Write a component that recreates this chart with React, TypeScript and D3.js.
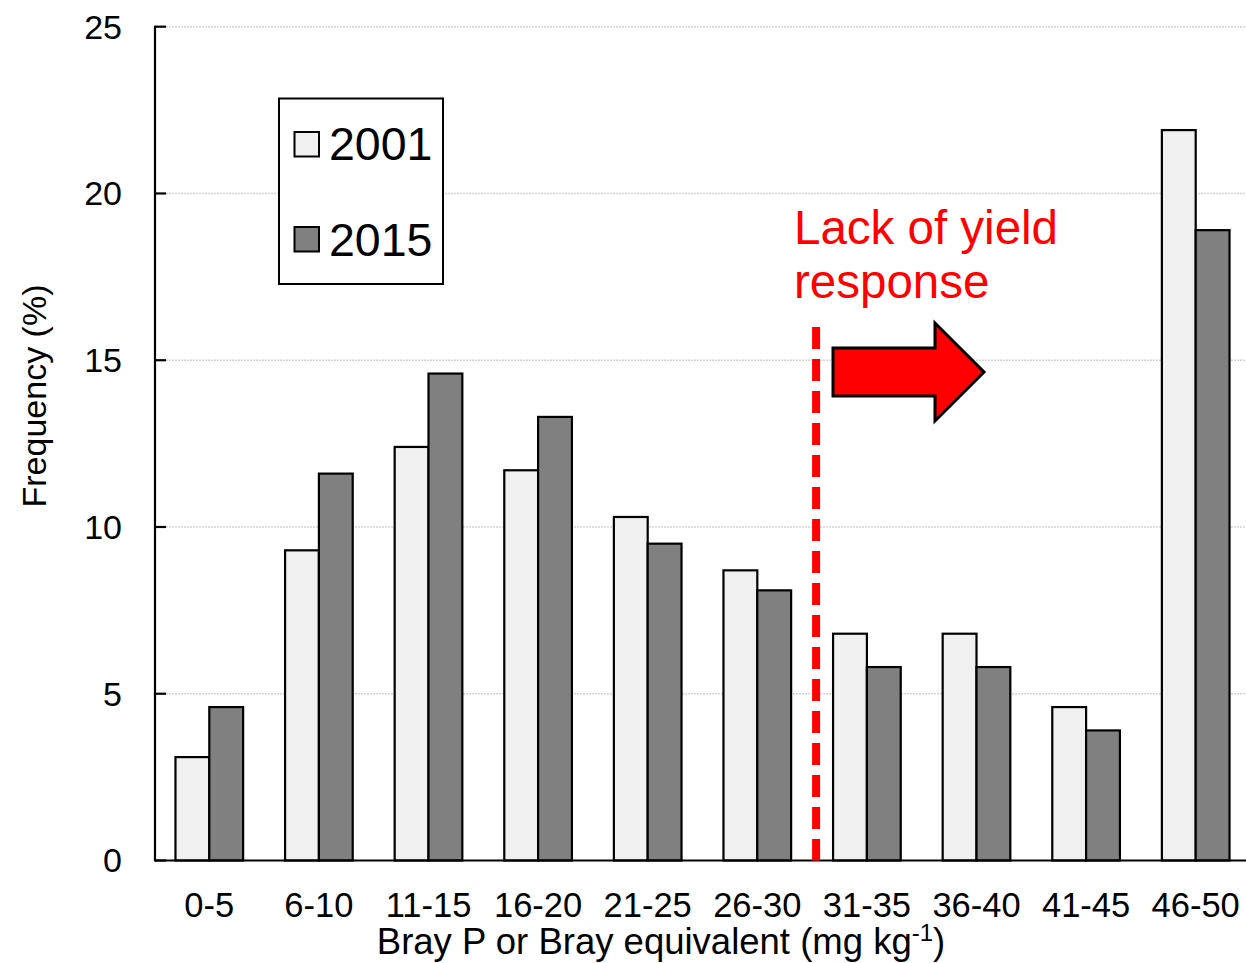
import React from "react";
import * as d3 from "d3";

// Soil test P distribution by class, two survey years
const categories = ["0-5", "6-10", "11-15", "16-20", "21-25", "26-30", "31-35", "36-40", "41-45", "46-50"];
const seriesNames = ["2001", "2015"];
const values2001 = [3.1, 9.3, 12.4, 11.7, 10.3, 8.7, 6.8, 6.8, 4.6, 21.9];
const values2015 = [4.6, 11.6, 14.6, 13.3, 9.5, 8.1, 5.8, 5.8, 3.9, 18.9];
const yTicks = [0, 5, 10, 15, 20, 25];
const seriesFill: Record<string, string> = { "2001": "#f0f0f0", "2015": "#808080" };

const W = 1246;
const H = 963;
const FONT = "'Liberation Sans', Arial, Helvetica, sans-serif";

export default function App() {
  const left = 155;
  const y0 = 860.5;
  const yTop = 26.7;

  const x0 = d3.scaleBand<string>().domain(categories).range([154.5, 1250.5]).padding(0);
  const x1 = d3
    .scaleBand<string>()
    .domain(seriesNames)
    .range([0, x0.bandwidth()])
    .paddingInner(0)
    .paddingOuter(0.62);
  const y = d3.scaleLinear().domain([0, 25]).range([y0, yTop]);

  const rows = categories.map((c, i) => ({
    cat: c,
    vals: [
      { key: "2001", v: values2001[i] },
      { key: "2015", v: values2015[i] },
    ],
  }));

  // threshold between 26-30 and 31-35 classes
  const thresholdX = (x0("31-35") as number) + 4;

  const arrow = d3.line()([
    [833, 348],
    [935, 348],
    [935, 323],
    [984, 372],
    [935, 421],
    [935, 396],
    [833, 396],
  ]) + "Z";

  return (
    <svg
      width={W}
      height={H}
      style={{ position: "absolute", left: 0, top: 0, background: "#fff" }}
      fontFamily={FONT}
    >
      {/* gridlines */}
      {yTicks
        .filter((t) => t > 0)
        .map((t) => (
          <line
            key={"g" + t}
            x1={left + 11}
            x2={W}
            y1={y(t)}
            y2={y(t)}
            stroke="#d4d4d4"
            strokeWidth={1.5}
            strokeDasharray="2 1"
          />
        ))}

      {/* bars */}
      {rows.map((r) => (
        <g key={r.cat} transform={`translate(${x0(r.cat)},0)`}>
          {r.vals.map((d) => (
            <rect
              key={d.key}
              x={x1(d.key)}
              y={y(d.v)}
              width={x1.bandwidth()}
              height={y0 - y(d.v)}
              fill={seriesFill[d.key]}
              stroke="#000"
              strokeWidth={2.2}
            />
          ))}
        </g>
      ))}

      {/* axes */}
      <line x1={left} x2={left} y1={yTop - 1} y2={y0 + 1} stroke="#000" strokeWidth={2.2} />
      <line x1={left} x2={W} y1={y0} y2={y0} stroke="#000" strokeWidth={2.2} />
      {yTicks.map((t) => (
        <g key={"t" + t}>
          <line x1={left} x2={left + 11} y1={y(t)} y2={y(t)} stroke="#000" strokeWidth={2.2} />
          <text x={122} y={y(t)} dy="0.35em" textAnchor="end" fontSize={34} fill="#000">
            {t}
          </text>
        </g>
      ))}
      {categories.map((c) => (
        <text
          key={"c" + c}
          x={(x0(c) as number) + x0.bandwidth() / 2}
          y={917}
          textAnchor="middle"
          fontSize={34.5}
          fill="#000"
        >
          {c}
        </text>
      ))}

      {/* axis titles */}
      <text x={661} y={954} textAnchor="middle" fontSize={36.5} fill="#000">
        Bray P or Bray equivalent (mg kg
        <tspan dy={-13} fontSize={24}>-1</tspan>
        <tspan dy={13}>)</tspan>
      </text>
      <text
        transform="translate(46,396) rotate(-90)"
        textAnchor="middle"
        fontSize={34}
        fill="#000"
      >
        Frequency (%)
      </text>

      {/* legend */}
      <rect x={279} y={98.5} width={164} height={185.5} fill="#fff" stroke="#000" strokeWidth={2} />
      {seriesNames.map((s, i) => (
        <g key={"l" + s}>
          <rect
            x={294.5}
            y={132 + i * 95}
            width={24.5}
            height={24.5}
            fill={seriesFill[s]}
            stroke="#000"
            strokeWidth={2}
          />
          <text x={329} y={160 + i * 95.5} fontSize={46.5} fill="#000">
            {s}
          </text>
        </g>
      ))}

      {/* annotation */}
      <line
        x1={thresholdX}
        x2={thresholdX}
        y1={327}
        y2={y0}
        stroke="#ff0000"
        strokeWidth={8}
        strokeDasharray="22 10"
      />
      <path d={arrow} fill="#ff0000" stroke="#000" strokeWidth={3} strokeLinejoin="miter" />
      <text x={794} y={244} fontSize={47.5} fill="#ff0000">
        Lack of yield
      </text>
      <text x={794} y={298} fontSize={47.5} fill="#ff0000">
        response
      </text>
    </svg>
  );
}
